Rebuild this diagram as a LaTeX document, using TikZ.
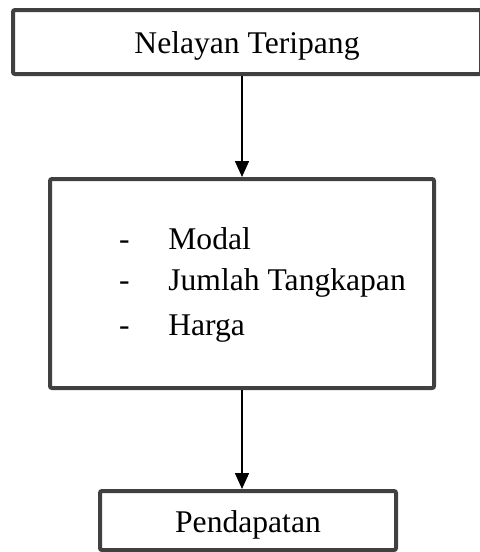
\documentclass[tikz,border=0pt]{standalone}
\usepackage{fontspec}
\setmainfont{Liberation Serif}
\usetikzlibrary{arrows.meta}
\definecolor{boxline}{HTML}{404040}
\tikzset{
  box/.style={draw=boxline, line width=2pt, rounded corners=1pt, fill=white, inner sep=0pt},
  flow/.style={-{Triangle[length=8pt, width=7pt]}, line width=0.8pt, draw=black},
  hyph/.style={inner sep=0pt, anchor=base},
  item/.style={inner sep=0pt, anchor=base west}
}

\begin{document}
\begin{tikzpicture}[x=0.5pt, y=-0.5pt, font=\fontsize{15.8}{21.5}\selectfont]
  \useasboundingbox (0,0) rectangle (480,552);

  \node[box, minimum width=234pt, minimum height=32pt, text height=11pt, text depth=0pt]
    (nelayan) at (247,42) {Nelayan Teripang};

  \node[box, minimum width=192pt, minimum height=104.5pt] (faktor) at (242,283.5) {};
  \foreach \i/\y/\txt in {1/249/Modal, 2/290/Jumlah Tangkapan, 3/335/Harga} {
    \node[hyph] (hyph\i) at (124.5,\y) {-};
    \node[item] (item\i) at (168,\y) {\txt};
  }

  \node[box, minimum width=148pt, minimum height=29.5pt, text height=11.5pt, text depth=0pt]
    (pendapatan) at (248,520.5) {Pendapatan};

  \draw[flow] (nelayan.south -| faktor.north) -- (faktor.north);
  \draw[flow] (faktor.south) -- (pendapatan.north -| faktor.south);
\end{tikzpicture}
\end{document}
